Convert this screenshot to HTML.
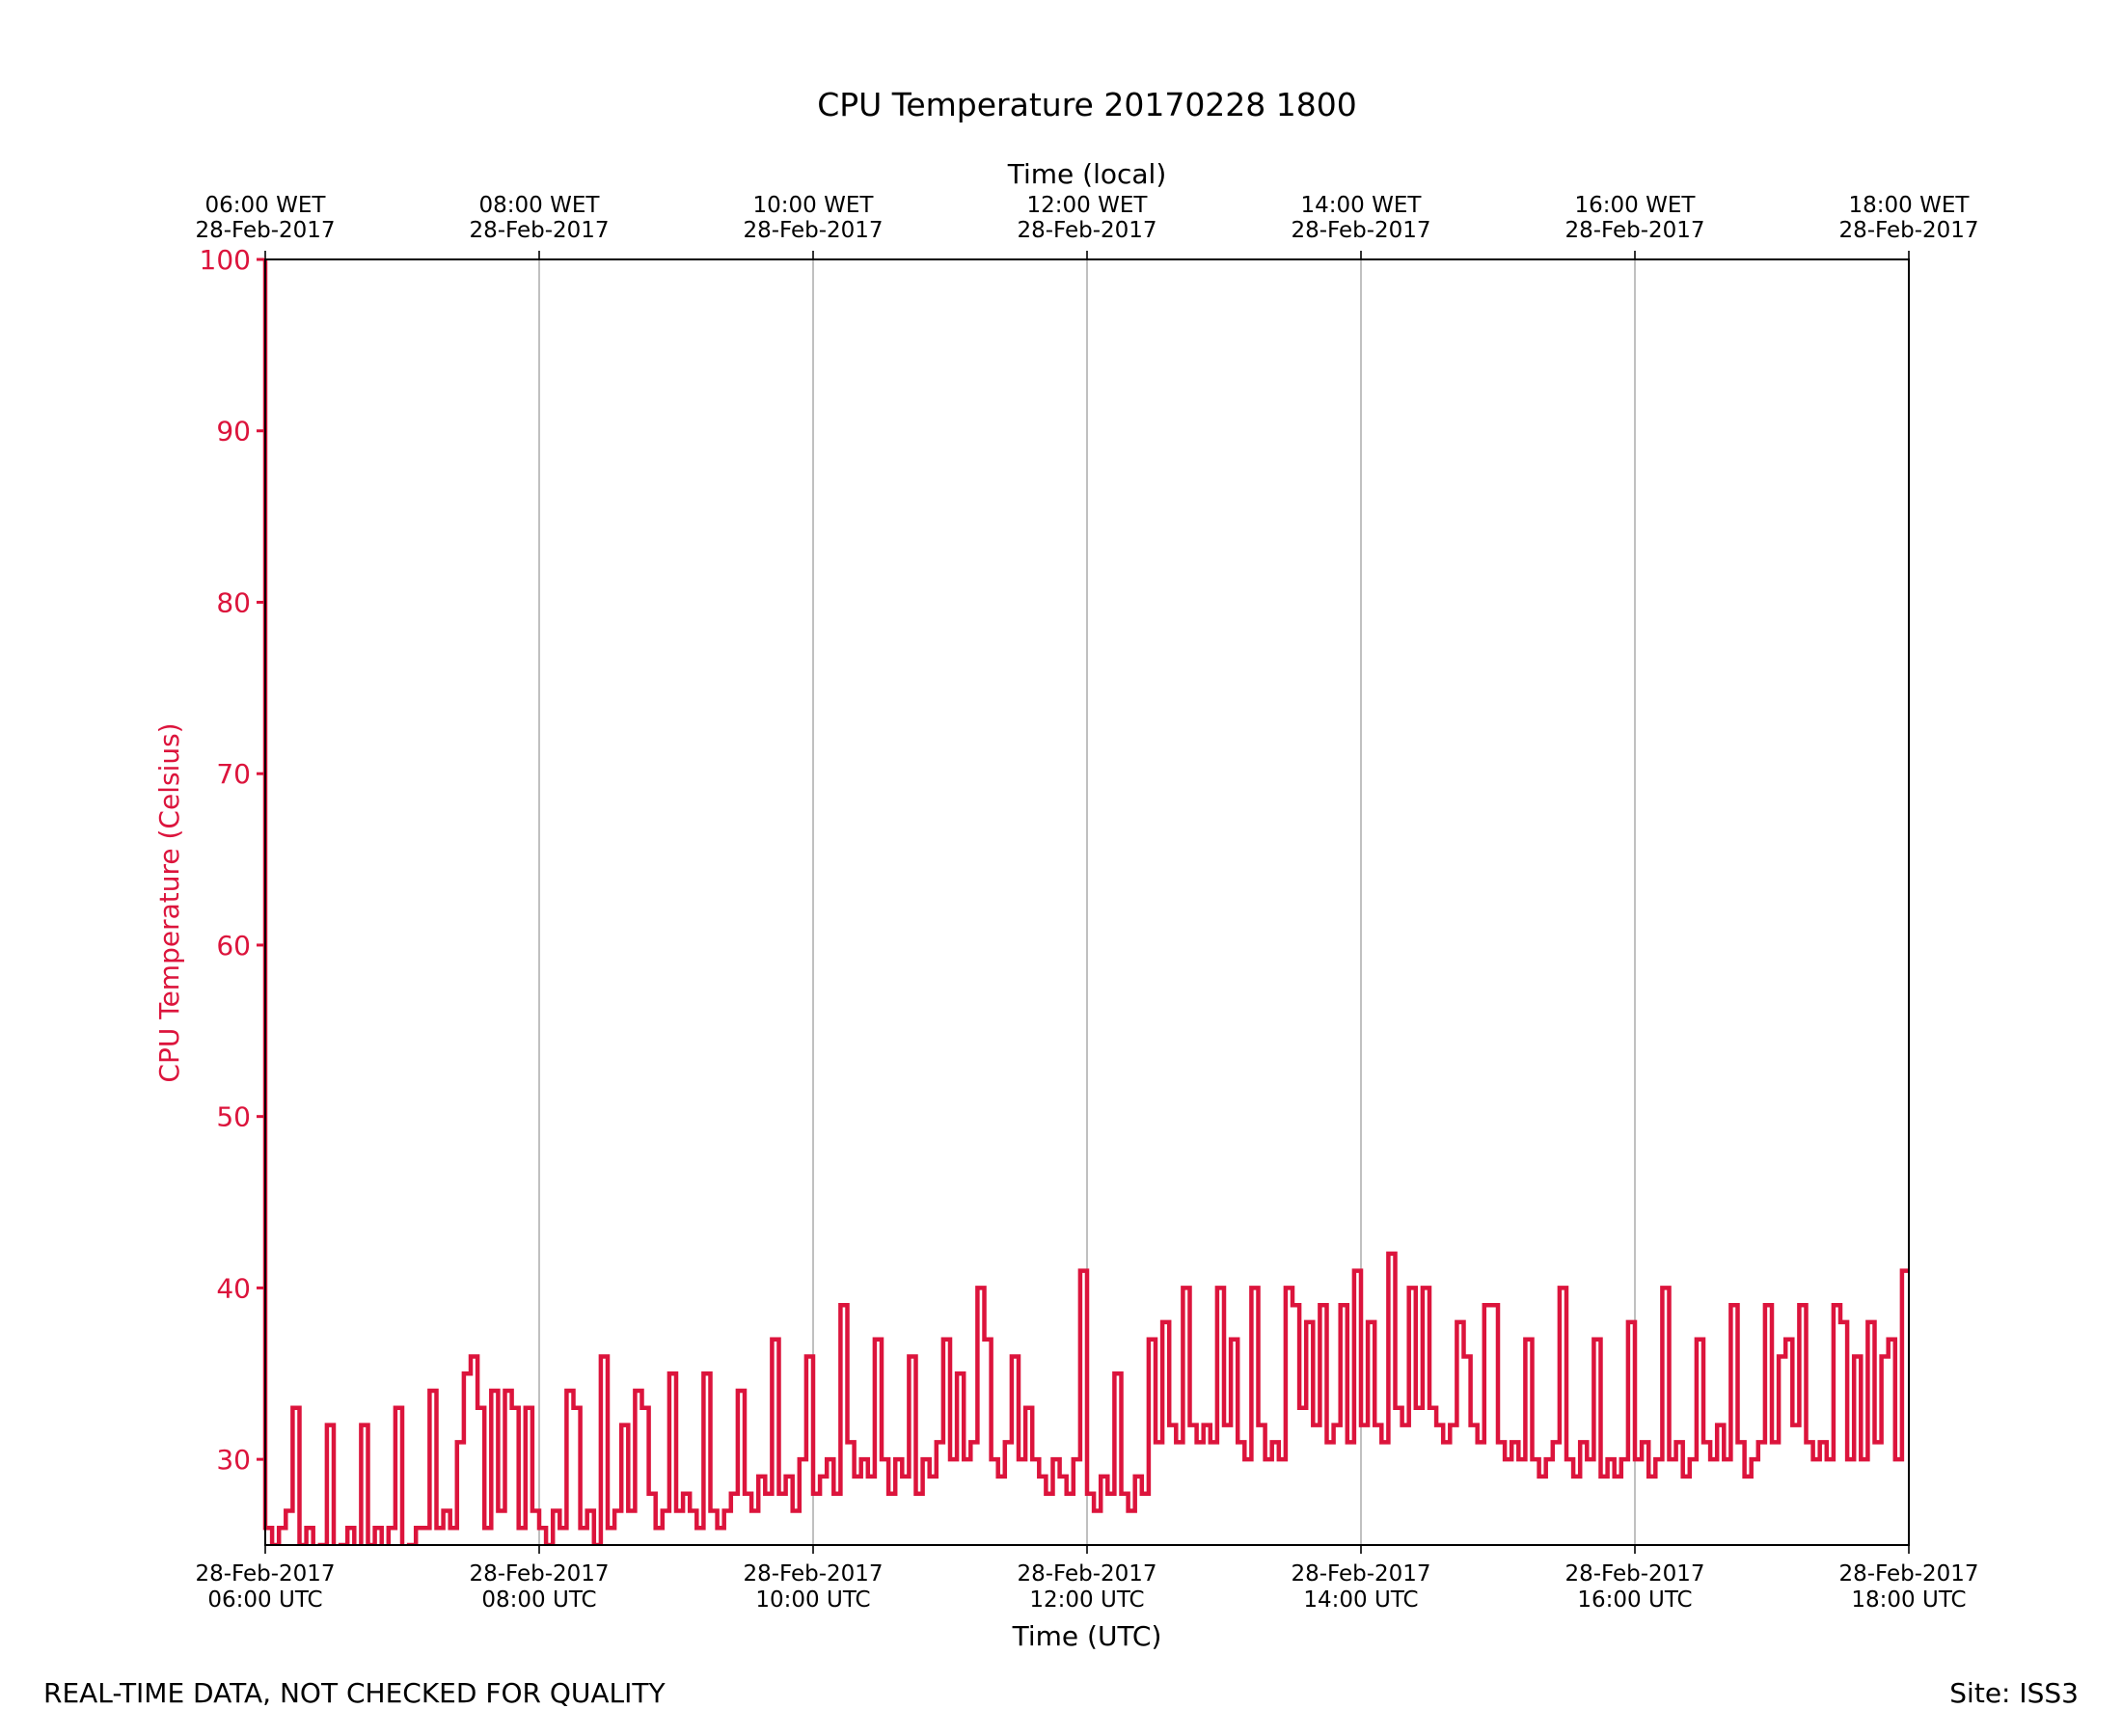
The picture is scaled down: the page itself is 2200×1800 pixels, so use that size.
<!DOCTYPE html>
<html><head><meta charset="utf-8"><style>
html,body{margin:0;padding:0;background:#fff}
svg{display:block;font-family:"DejaVu Sans","Liberation Sans",sans-serif}
</style></head><body>
<svg id="chart" width="2200" height="1800" viewBox="0 0 2200 1800" xmlns="http://www.w3.org/2000/svg">
<rect width="2200" height="1800" fill="#fff"/>
<text x="1127" y="120" font-size="33" text-anchor="middle">CPU Temperature 20170228 1800</text>
<text x="1127" y="190" font-size="28" text-anchor="middle">Time (local)</text>
<text x="1127" y="1706" font-size="28" text-anchor="middle">Time (UTC)</text>
<text x="185" y="936" font-size="28" fill="#dc143c" text-anchor="middle" transform="rotate(-90 185 936)">CPU Temperature (Celsius)</text>
<text x="45" y="1765" font-size="28">REAL-TIME DATA, NOT CHECKED FOR QUALITY</text>
<text x="2155" y="1765" font-size="28" text-anchor="end">Site: ISS3</text>
<g id="grid"></g>
<g id="series"></g>
<g id="axes"></g>
</svg>
<script>
const temps = [100,26,25,26,27,33,25,26,24,25,32,24,25,26,24,32,25,26,24,26,33,24,25,26,26,34,26,27,26,31,35,36,33,26,34,27,34,33,26,33,27,26,25,27,26,34,33,26,27,25,36,26,27,32,27,34,33,28,26,27,35,27,28,27,26,35,27,26,27,28,34,28,27,29,28,37,28,29,27,30,36,28,29,30,28,39,31,29,30,29,37,30,28,30,29,36,28,30,29,31,37,30,35,30,31,40,37,30,29,31,36,30,33,30,29,28,30,29,28,30,41,28,27,29,28,35,28,27,29,28,37,31,38,32,31,40,32,31,32,31,40,32,37,31,30,40,32,30,31,30,40,39,33,38,32,39,31,32,39,31,41,32,38,32,31,42,33,32,40,33,40,33,32,31,32,38,36,32,31,39,39,31,30,31,30,37,30,29,30,31,40,30,29,31,30,37,29,30,29,30,38,30,31,29,30,40,30,31,29,30,37,31,30,32,30,39,31,29,30,31,39,31,36,37,32,39,31,30,31,30,39,38,30,36,30,38,31,36,37,30,41];
const minutesPerSample = [3];
const yTicks = [30,40,50,60,70,80,90,100];
const xTickHours = [6,8,10,12,14,16,18];
const yDomain = [25,100];
const xDomain = [6,18];

const L=275,R=1979,T=269,B=1602;
const NS='http://www.w3.org/2000/svg';
function xs(h){return L+(h-xDomain[0])/(xDomain[1]-xDomain[0])*(R-L);}
function ys(v){return B-(v-yDomain[0])/(yDomain[1]-yDomain[0])*(B-T);}
function mk(tag,attrs,parent){const e=document.createElementNS(NS,tag);for(const k in attrs)e.setAttribute(k,attrs[k]);parent.appendChild(e);return e;}
const grid=document.getElementById('grid'),series=document.getElementById('series'),axes=document.getElementById('axes');
function pad(n){return (n<10?'0':'')+n;}
xTickHours.forEach((h,i)=>{
  const x=xs(h);
  if(i>0&&i<xTickHours.length-1){const g=mk('line',{x1:x,x2:x,y1:T,y2:B,stroke:'#b0b0b0','stroke-width':1.6},grid);
  
  }
  const tb=mk('line',{x1:x,x2:x,y1:B,y2:B+9,stroke:'#000','stroke-width':1.6},axes);
  
  
  const tt=mk('line',{x1:x,x2:x,y1:T,y2:T-9,stroke:'#000','stroke-width':1.6},axes);
  
  
  const t1=mk('text',{x:x,y:1639,'font-size':23,'text-anchor':'middle'},axes);t1.textContent='28-Feb-2017';
  
  
  const t2=mk('text',{x:x,y:1666,'font-size':23,'text-anchor':'middle'},axes);t2.textContent=pad(h)+':00 UTC';
  
  
  const t3=mk('text',{x:x,y:220,'font-size':23,'text-anchor':'middle'},axes);t3.textContent=pad(h)+':00 WET';
  
  
  const t4=mk('text',{x:x,y:246,'font-size':23,'text-anchor':'middle'},axes);t4.textContent='28-Feb-2017';
  
  
});
yTicks.forEach(v=>{
  const y=ys(v);
  const tk=mk('line',{x1:L-9,x2:L,y1:y,y2:y,stroke:'#dc143c','stroke-width':3},axes);
  
  
  const tl=mk('text',{x:L-15,y:y+10,'font-size':28,'text-anchor':'end',fill:'#dc143c'},axes);tl.textContent=v;
  
  
});
let d='';
temps.forEach((v,i)=>{
  const x=xs(xDomain[0]+i*minutesPerSample[0]/60).toFixed(1);
  const y=ys(Math.max(v,yDomain[0]-1)).toFixed(1);
  if(i===0){d+='M'+x+','+y;}else{d+=' V'+y+' H'+x;}
});
const clip=mk('clipPath',{id:'pc'},series);mk('rect',{x:L-3,y:T-3,width:R-L+6,height:B-T+3},clip);
const line=mk('path',{d:d,fill:'none',stroke:'#dc143c','stroke-width':4.5,'stroke-linejoin':'miter','clip-path':'url(#pc)'},series);


const frame=mk('rect',{x:L,y:T,width:R-L,height:B-T,fill:'none',stroke:'#000','stroke-width':2},axes);


</script>
</body></html>
